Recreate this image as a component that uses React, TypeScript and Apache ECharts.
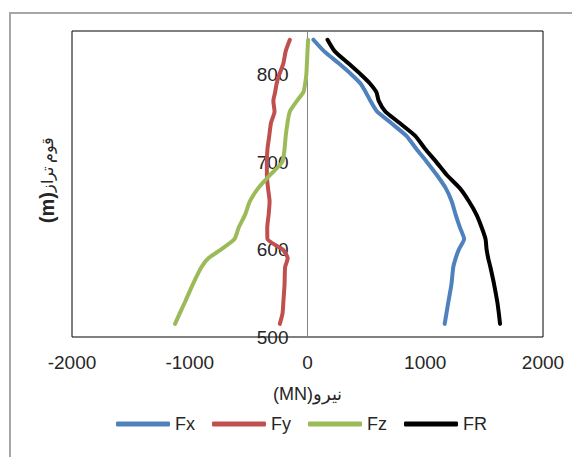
import React, { useEffect, useRef } from "react";
import * as echarts from "echarts";

const elevations = [515, 527, 540, 560, 580, 590, 600, 612, 625, 640, 655, 670, 685, 700, 715, 730, 745, 758, 770, 780, 790, 800, 813, 827, 840];
const fxValues = [1165, 1180, 1196, 1222, 1238, 1258, 1285, 1330, 1295, 1258, 1225, 1175, 1100, 1015, 925, 840, 708, 590, 535, 495, 450, 375, 265, 140, 50];
const fyValues = [-235, -212, -205, -195, -190, -168, -210, -340, -342, -330, -322, -335, -345, -345, -340, -325, -310, -280, -290, -275, -262, -240, -205, -185, -150];
const fzValues = [-1125, -1085, -1040, -975, -900, -842, -735, -620, -585, -530, -490, -420, -320, -215, -195, -185, -170, -150, -90, -35, -20, -10, -5, 0, 5];
const frValues = [1635, 1625, 1612, 1585, 1553, 1535, 1521, 1512, 1480, 1435, 1372, 1295, 1185, 1095, 1000, 915, 780, 660, 605, 585, 530, 455, 347, 230, 170];

const seriesNames = ["Fx", "Fy", "Fz", "FR"];
const seriesColors = ["#4F81BD", "#C0504D", "#9BBB59", "#000000"];
const xTitle = "(MN)نیرو";
const yTitleUnit = "(m)";
const yTitleText = "قوم تراز";

const FONT = "'Liberation Sans', Arial, sans-serif";
const TEXT = "#262626";

export default function App() {
  const ref = useRef<HTMLDivElement>(null);
  useEffect(() => {
    if (!ref.current) return;
    const chart = echarts.init(ref.current, null, { renderer: "svg" });
    const all = [fxValues, fyValues, fzValues, frValues];
    chart.setOption({
      animation: false,
      backgroundColor: "#ffffff",
      textStyle: { fontFamily: FONT },
      grid: {
        left: 72,
        right: 29,
        top: 31,
        bottom: 120,
        show: true,
        borderColor: "#000000",
        borderWidth: 1,
      },
      legend: {
        left: 116,
        top: 415,
        padding: 0,
        itemWidth: 54,
        itemHeight: 5,
        itemGap: 17,
        icon: "roundRect",
        textStyle: { fontSize: 18, color: TEXT, fontFamily: FONT },
        data: seriesNames,
      },
      xAxis: {
        type: "value",
        min: -2000,
        max: 2000,
        interval: 1000,
        axisLine: { show: false },
        axisTick: { show: false },
        splitLine: { show: false },
        axisLabel: {
          fontSize: 19,
          color: TEXT,
          margin: 16,
          fontFamily: FONT,
          formatter: (v: number) => String(v),
        },
        name: xTitle,
        nameLocation: "middle",
        nameGap: 48,
        nameTextStyle: { fontSize: 18, color: TEXT, fontFamily: FONT },
      },
      yAxis: {
        type: "value",
        min: 500,
        max: 850,
        interval: 100,
        offset: -235.5,
        axisLine: { show: true, onZero: false, lineStyle: { color: "#868686", width: 1 } },
        axisTick: { show: false },
        splitLine: { show: false },
        axisLabel: {
          fontSize: 19,
          color: TEXT,
          margin: 19,
          showMaxLabel: false,
          fontFamily: FONT,
          formatter: (v: number) => String(v),
        },
      },
      graphic: [
        {
          type: "rect",
          shape: { x: 10, y: 13, width: 620, height: 500 },
          style: { fill: "none", stroke: "#a6a6a6", lineWidth: 2 },
          silent: true,
        },
        {
          type: "text",
          x: 47,
          y: 180,
          rotation: Math.PI / 2,
          style: {
            text: "{a|" + yTitleUnit + "}{b|" + yTitleText + "}",
            align: "center",
            verticalAlign: "middle",
            rich: {
              a: { fontSize: 20, fontWeight: "bold", fill: TEXT, fontFamily: FONT },
              b: { fontSize: 16, fill: TEXT, fontFamily: FONT },
            },
          },
        },
      ],
      series: seriesNames.map((name, k) => ({
        name,
        type: "line",
        symbol: "none",
        smooth: 0.2,
        color: seriesColors[k],
        lineStyle: { width: 4, color: seriesColors[k], cap: "round", join: "round" },
        data: elevations.map((e, i) => [all[k][i], e]),
      })),
    });
    return () => chart.dispose();
  }, []);
  return (
    <div
      ref={ref}
      style={{ position: "fixed", left: 0, top: 0, width: 572, height: 457 }}
    />
  );
}
